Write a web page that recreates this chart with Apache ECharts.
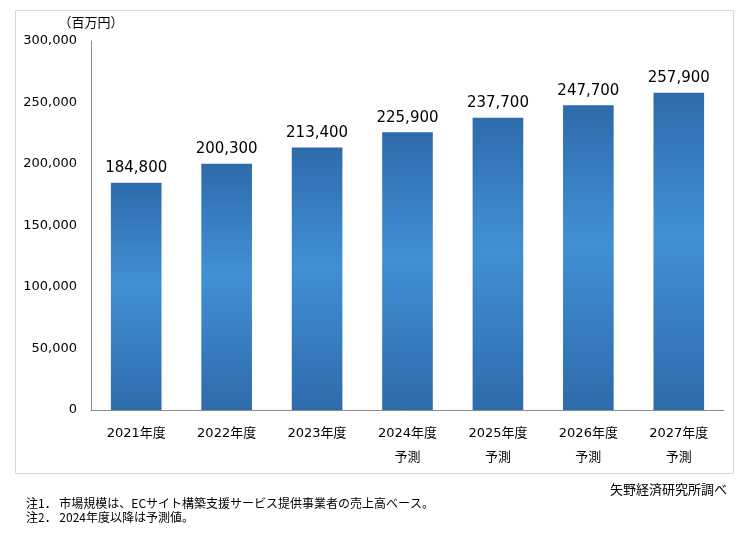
<!DOCTYPE html>
<html><head><meta charset="utf-8">
<script src="https://cdn.jsdelivr.net/npm/echarts@6/dist/echarts.min.js"></script>
<style>html,body{margin:0;padding:0;background:#fff}#c{width:748px;height:556px}</style>
</head><body><div id="c"></div>
<script>
const categories = ['2021年度','2022年度','2023年度','2024年度\n予測','2025年度\n予測','2026年度\n予測','2027年度\n予測'];
const values = [184800, 200300, 213400, 225900, 237700, 247700, 257900];
const yTicks = [0, 50000, 100000, 150000, 200000, 250000, 300000];
const notes = ['注1． 市場規模は、ECサイト構築支援サービス提供事業者の売上高ベース。', '注2． 2024年度以降は予測値。'];
const source = '矢野経済研究所調べ';

const FONT = '"DejaVu Sans", Verdana, "Noto Sans CJK JP", sans-serif';
const chart = echarts.init(document.getElementById('c'));
const grad = new echarts.graphic.LinearGradient(0,0,0,1,[
  {offset:0,color:'#2e6bab'},{offset:0.45,color:'#4190d4'},{offset:1,color:'#2e6bab'}]);
chart.setOption({
  animation:false,
  textStyle:{fontFamily:FONT},
  grid:{left:91,right:24,top:41,bottom:146,containLabel:false},
  xAxis:{type:'category',data:categories,
    axisLine:{lineStyle:{color:'#8c8c8c'}},axisTick:{show:false},
    axisLabel:{color:'#000',fontSize:13,fontFamily:FONT,lineHeight:24,margin:12}},
  yAxis:{type:'value',min:0,max:300000,interval:50000,
    name:'（百万円）',nameLocation:'end',nameGap:12,
    nameTextStyle:{color:'#000',fontSize:13,fontFamily:'"Noto Sans CJK JP", sans-serif',align:'center',padding:[0,0,0,0]},
    axisLine:{show:true,lineStyle:{color:'#8c8c8c'}},axisTick:{show:false},splitLine:{show:false},
    axisLabel:{color:'#000',fontSize:13,fontFamily:FONT,margin:14,
      formatter:v=>yTicks.includes(v)?v.toLocaleString('en-US'):''}},
  series:[{type:'bar',data:values,barWidth:'56%',
    itemStyle:{color:grad},
    label:{show:true,position:'top',distance:7,color:'#000',fontSize:15,fontFamily:FONT,
      formatter:p=>p.value.toLocaleString('en-US')}}],
  graphic:[
    {type:'rect',shape:{x:15.5,y:10.5,width:718,height:463},style:{fill:'none',stroke:'#d9d9d9',lineWidth:1},z:-1},
    {type:'text',x:727,y:483,style:{text:source,fill:'#000',font:'13px "Noto Sans CJK JP", sans-serif',align:'right'}},
    {type:'text',x:26,y:497,style:{text:notes[0],fill:'#000',font:'12px "Noto Sans CJK JP", sans-serif'}},
    {type:'text',x:26,y:511,style:{text:notes[1],fill:'#000',font:'12px "Noto Sans CJK JP", sans-serif'}}
  ]
});
</script></body></html>
